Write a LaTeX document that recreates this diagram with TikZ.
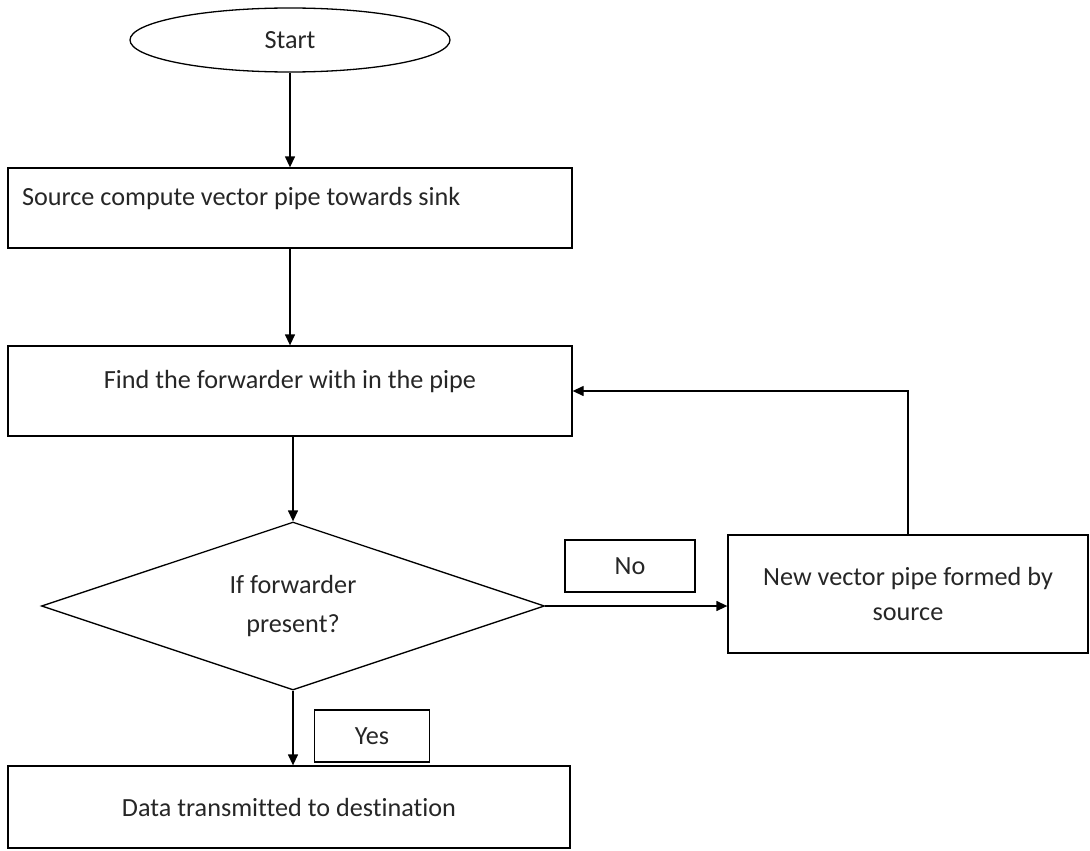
\documentclass[tikz,border=0pt]{standalone}
\usepackage{fontspec}
\setmainfont{Carlito}[Ligatures=NoCommon]
\usetikzlibrary{shapes.geometric,arrows.meta}

\begin{document}
\begin{tikzpicture}[x=1pt, y=-1pt,
    box/.style={draw, line width=1.3pt, rectangle, inner sep=0pt, text=black!85,
        font=\fontsize{26.2}{30}\selectfont},
    flow/.style={line width=1.3pt, -{Triangle[length=11pt,width=10pt]}}]

    \useasboundingbox (0,0) rectangle (1090,851);

    % start
    \node[box, ellipse, minimum width=320pt, minimum height=64pt] (start) at (290,40) {Start};

    % process boxes
    \node[box, minimum width=564pt, minimum height=80pt, text width=536pt, align=flush left,
        text height=18pt, text depth=24pt] (source) at (290,208) {Source compute vector pipe towards sink};
    \node[box, minimum width=564pt, minimum height=90pt,
        text height=18pt, text depth=24pt] (find) at (290,391) {Find the forwarder with in the pipe};

    % decision
    \node[box, diamond, aspect=3, minimum width=503pt, minimum height=168pt, align=center,
        font=\fontsize{26.2}{39}\selectfont] (check) at (293,606) {If forwarder\\present?};

    \node[box, minimum width=360pt, minimum height=118pt, align=center,
        font=\fontsize{26.2}{35}\selectfont] (newpipe) at (908,594) {New vector pipe formed by\\source};
    \node[box, minimum width=562pt, minimum height=82pt] (data) at (289,807) {Data transmitted to destination};

    % branch labels
    \node[box, minimum width=130pt, minimum height=52pt] (no) at (630,566) {No};
    \node[box, minimum width=115pt, minimum height=52pt] (yes) at (372,736) {Yes};

    % connectors
    \draw[flow] (start) -- (source);
    \draw[flow] (source) -- (find);
    \draw[flow] (find.south -| check.north) -- (check.north);
    \draw[flow] (check.south) -- (check.south |- data.north);
    \draw[flow] (check.east) -- (newpipe.west |- check.east);
    \draw[flow] (newpipe.north) |- (find.east);

\end{tikzpicture}
\end{document}
